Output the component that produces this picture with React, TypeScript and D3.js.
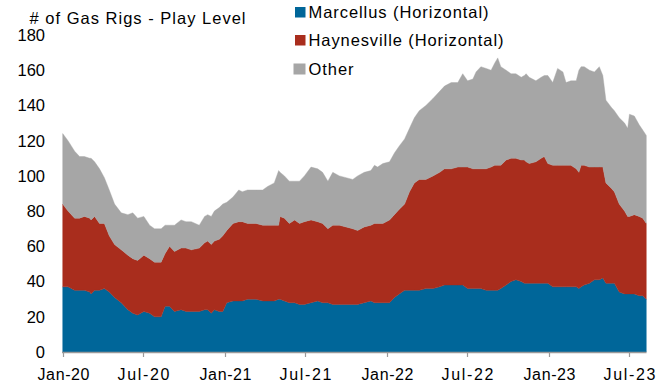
import React from "react";
import * as d3 from "d3";

// Weekly gas rig counts by play (sampled), Jan 2020 – Aug 2023
const dates = [
  "2020-01-01", "2020-01-13", "2020-01-28", "2020-02-08", "2020-02-19", "2020-03-02", "2020-03-05", "2020-03-13",
  "2020-03-24", "2020-04-04", "2020-04-15", "2020-04-27", "2020-05-12", "2020-05-27", "2020-06-07", "2020-06-18",
  "2020-07-02", "2020-07-15", "2020-07-26", "2020-08-10", "2020-08-19", "2020-08-29", "2020-09-09", "2020-09-24",
  "2020-10-05", "2020-10-17", "2020-11-04", "2020-11-16", "2020-11-23", "2020-12-01", "2020-12-08", "2020-12-19",
  "2020-12-27", "2021-01-05", "2021-01-19", "2021-02-01", "2021-02-09", "2021-02-21", "2021-03-12", "2021-03-27",
  "2021-04-07", "2021-04-22", "2021-05-02", "2021-05-05", "2021-05-15", "2021-05-26", "2021-06-07", "2021-06-18",
  "2021-06-29", "2021-07-14", "2021-07-29", "2021-08-09", "2021-08-21", "2021-09-01", "2021-09-16", "2021-10-01",
  "2021-10-16", "2021-10-27", "2021-11-11", "2021-11-26", "2021-12-04", "2021-12-11", "2021-12-23", "2022-01-07",
  "2022-01-18", "2022-01-29", "2022-02-10", "2022-02-21", "2022-03-04", "2022-03-15", "2022-03-30", "2022-04-15",
  "2022-04-30", "2022-05-11", "2022-05-26", "2022-06-10", "2022-06-21", "2022-07-02", "2022-07-14", "2022-07-21",
  "2022-08-01", "2022-08-13", "2022-08-24", "2022-09-01", "2022-09-08", "2022-09-15", "2022-09-27", "2022-10-08",
  "2022-10-19", "2022-10-31", "2022-11-07", "2022-11-11", "2022-11-18", "2022-12-03", "2022-12-15", "2022-12-22",
  "2022-12-30", "2023-01-10", "2023-01-21", "2023-02-02", "2023-02-09", "2023-02-20", "2023-03-04", "2023-03-10",
  "2023-03-15", "2023-03-22", "2023-04-03", "2023-04-14", "2023-04-25", "2023-05-03", "2023-05-10", "2023-05-22",
  "2023-05-29", "2023-06-09", "2023-06-21", "2023-06-28", "2023-07-02", "2023-07-13", "2023-07-24", "2023-08-01",
  "2023-08-09",
];

const marcellus = [
  37, 37, 35, 35, 35, 34, 33, 35, 35, 36, 34, 31, 28, 24, 22, 21,
  23, 22, 20, 20, 26, 26, 23, 24, 23, 23, 23, 24, 24, 22, 24, 23,
  23, 28, 29, 29, 29, 30, 30, 29, 29, 29, 30, 30, 29, 28, 28, 27,
  27, 28, 29, 28, 28, 27, 27, 27, 27, 27, 28, 29, 28, 28, 28, 28,
  31, 33, 35, 35, 35, 35, 36, 36, 37, 38, 38, 38, 38, 36, 36, 36,
  36, 35, 35, 35, 35, 36, 38, 40, 41, 40, 39, 39, 39, 39, 39, 39,
  39, 37, 37, 37, 37, 37, 37, 36, 37, 38, 39, 41, 41, 42, 39, 39,
  39, 34, 33, 33, 33, 33, 32, 32, 30,
];

const haynesville = [
  47, 43, 41, 41, 42, 42, 42, 42, 38, 37, 32, 30, 30, 31, 31, 31,
  32, 31, 31, 31, 30, 34, 34, 35, 36, 35, 36, 38, 39, 39, 39, 41,
  43, 41, 44, 45, 45, 43, 43, 43, 43, 43, 42, 47, 47, 45, 47, 46,
  47, 47, 45, 45, 42, 45, 45, 44, 43, 42, 43, 43, 45, 45, 45, 47,
  47, 48, 49, 56, 61, 63, 62, 64, 65, 66, 66, 67, 67, 69, 68, 68,
  68, 69, 70, 71, 71, 70, 71, 70, 69, 69, 70, 69, 68, 69, 71, 72,
  68, 69, 69, 69, 69, 69, 67, 66, 69, 68, 66, 64, 64, 63, 57, 54,
  52, 50, 47, 44, 44, 45, 45, 44, 43,
];

const other = [
  40, 40, 38, 35, 34, 34, 35, 31, 31, 26, 26, 23, 21, 23, 26, 24,
  22, 19, 19, 19, 16, 12, 15, 16, 15, 16, 13, 15, 15, 16, 17, 18,
  18, 16, 15, 18, 17, 19, 19, 20, 22, 24, 31, 25, 24, 24, 22, 24,
  26, 30, 30, 29, 27, 30, 28, 28, 28, 31, 31, 31, 33, 32, 34, 33,
  35, 36, 37, 36, 37, 39, 42, 44, 46, 47, 49, 48, 53, 49, 51, 55,
  58, 57, 55, 58, 61, 56, 51, 48, 48, 47, 48, 50, 49, 46, 46, 46,
  50, 47, 55, 53, 47, 48, 50, 58, 56, 56, 55, 54, 57, 52, 47, 46,
  46, 49, 50, 50, 58, 56, 52, 50, 50,
];

const seriesNames = ["Marcellus (Horizontal)", "Haynesville (Horizontal)", "Other"];
const seriesColors = ["#006699", "#A92D1D", "#A6A6A6"];
const yTicks = [0, 20, 40, 60, 80, 100, 120, 140, 160, 180];
const xTickLabels = ["Jan-20", "Jul-20", "Jan-21", "Jul-21", "Jan-22", "Jul-22", "Jan-23", "Jul-23"];
const xTickDates = ["2020-01-01", "2020-07-01", "2021-01-01", "2021-07-01", "2022-01-01", "2022-07-01", "2023-01-01", "2023-07-01"];

const W = 668;
const H = 385;
const FONT = "'Liberation Sans', Arial, sans-serif";

const parse = d3.utcParse("%Y-%m-%d");

type Row = { date: Date; m: number; h: number; o: number };

export default function App() {
  const rows: Row[] = dates.map((d, i) => ({
    date: parse(d) as Date,
    m: marcellus[i],
    h: haynesville[i],
    o: other[i],
  }));

  const x = d3
    .scaleUtc()
    .domain([parse("2020-01-01") as Date, parse("2023-08-09") as Date])
    .range([62.7, 646.3]);
  const y = d3.scaleLinear().domain([0, 180]).range([352, 35]);

  const stack = d3.stack<Row>().keys(["m", "h", "o"]);
  const layers = stack(rows);

  const area = d3
    .area<d3.SeriesPoint<Row>>()
    .x((d) => x(d.data.date))
    .y0((d) => y(d[0]))
    .y1((d) => y(d[1]));

  const legendY = [7, 35, 63.5];
  const legendLen = [180, 195, 45];

  return (
    <svg
      width={W}
      height={H}
      style={{ position: "absolute", left: 0, top: 0, background: "#fff" }}
      fontFamily={FONT}
    >
      {/* stacked areas */}
      {layers.map((layer, i) => (
        <path key={i} d={area(layer) || ""} fill={seriesColors[i]} stroke={seriesColors[i]} strokeWidth={0.4} />
      ))}

      {/* y tick labels */}
      {yTicks.map((t) => (
        <text key={t} x={45} y={y(t)} dy="0.36em" textAnchor="end" fontSize={16.5} fill="#000">
          {t}
        </text>
      ))}

      {/* x axis */}
      <line x1={62} x2={646.5} y1={352.5} y2={352.5} stroke="#9a9a9a" strokeWidth={1.5} />
      {xTickDates.map((d, i) => {
        const px = Math.round(x(parse(d) as Date)) + 0.5;
        return (
          <g key={d}>
            <line x1={px} x2={px} y1={352} y2={357} stroke="#9a9a9a" strokeWidth={1.2} />
            <text x={px} y={379.5} textAnchor="middle" fontSize={16} fill="#000" textLength={52} lengthAdjust="spacing">
              {xTickLabels[i]}
            </text>
          </g>
        );
      })}

      {/* title */}
      <text x={29.5} y={23.5} fontSize={16.5} fill="#000" textLength={216} lengthAdjust="spacing">
        # of Gas Rigs - Play Level
      </text>

      {/* legend */}
      {seriesNames.map((name, i) => (
        <g key={name}>
          <rect
            x={i === 2 ? 293.5 : 295}
            y={legendY[i]}
            width={i === 2 ? 12 : 10.5}
            height={i === 2 ? 11 : 10.5}
            fill={seriesColors[i]}
          />
          <text x={308.5} y={legendY[i] + 11.3} fontSize={16.5} fill="#000" textLength={legendLen[i]} lengthAdjust="spacing">
            {name}
          </text>
        </g>
      ))}
    </svg>
  );
}
